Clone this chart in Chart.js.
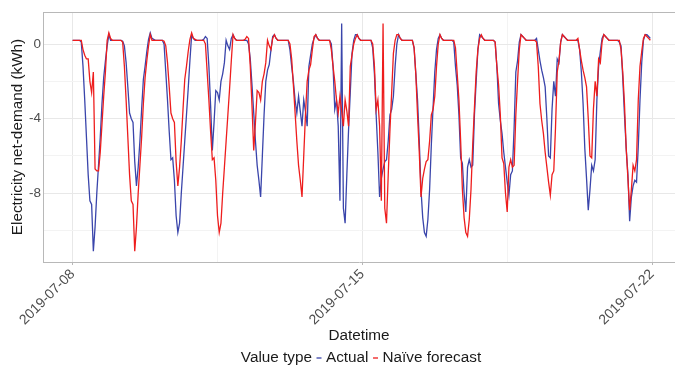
<!DOCTYPE html>
<html>
<head>
<meta charset="utf-8">
<script src="https://cdn.jsdelivr.net/npm/chart.js@4.4.0/dist/chart.umd.min.js"></script>
<style>
  html, body { margin: 0; padding: 0; background: #fff; }
  #wrap { width: 675px; height: 367px; position: relative; }
</style>
</head>
<body>
<div id="wrap"><canvas id="netDemandChart"></canvas></div>
<script>
// hourly net demand (kWh), x = hours since 2019-07-08 00:00
const actual = [
  0.2,0.2,0.2,0.2,0.2,0.1,-1.2,-3.0,-5.0,-7.0,-8.4,-8.6,-11.1,-9.8,-8.0,-6.5,-5.0,-3.2,-1.8,-0.9,-0.1,0.5,0.2,0.2,     // 07-08
  0.2,0.2,0.2,0.2,0.2,0.15,-0.1,-1.0,-2.3,-3.7,-4.0,-4.2,-6.3,-7.6,-6.6,-5.2,-3.5,-1.9,-1.2,-0.4,0.25,0.6,0.3,0.25,   // 07-09
  0.2,0.2,0.2,0.2,0.2,0.0,-1.5,-3.0,-4.7,-6.2,-6.1,-7.3,-9.2,-10.1,-9.6,-8.0,-6.6,-5.2,-3.8,-2.4,-0.9,0.5,0.3,0.2,    // 07-10
  0.2,0.2,0.2,0.2,0.25,0.4,0.3,-1.2,-3.3,-5.7,-4.2,-2.5,-2.6,-3.0,-2.0,-1.6,-1.0,0.2,-0.1,-0.3,0.3,0.5,0.3,0.2,       // 07-11
  0.2,0.2,0.2,0.2,0.2,0.2,0.0,-0.8,-2.2,-3.7,-5.2,-6.5,-7.3,-8.2,-6.0,-3.8,-2.0,-1.4,-1.1,-0.3,0.4,0.5,0.3,0.2,       // 07-12
  0.2,0.2,0.2,0.2,0.2,0.2,-0.3,-1.2,-2.0,-3.0,-3.7,-2.8,-3.6,-4.4,-3.0,-3.6,-4.4,-1.2,-0.6,0.0,0.3,0.5,0.3,0.2,       // 07-13
  0.2,0.2,0.2,0.2,0.2,0.2,0.0,-1.2,-3.5,-3.0,-4.4,-8.4,1.1,-8.8,-9.6,-7.0,-4.6,-2.6,-0.5,0.2,0.5,0.5,0.3,0.2,         // 07-14
  0.2,0.2,0.2,0.2,0.2,0.2,-0.2,-1.6,-3.8,-5.8,-8.2,-7.2,-6.7,-6.3,-6.2,-5.2,-3.8,-3.5,-2.8,-1.2,0.0,0.5,0.3,0.2,      // 07-15
  0.2,0.2,0.2,0.2,0.2,0.2,-0.2,-1.6,-3.0,-5.2,-7.8,-9.3,-10.1,-10.3,-9.4,-7.8,-5.4,-3.4,-1.5,-0.3,0.3,0.5,0.3,0.2,    // 07-16
  0.2,0.2,0.2,0.2,0.2,0.1,-1.2,-2.2,-3.8,-6.1,-6.4,-8.0,-9.0,-6.6,-6.2,-6.6,-6.5,-3.8,-2.0,-0.3,0.5,0.4,0.3,0.2,      // 07-17
  0.2,0.2,0.2,0.2,0.2,0.1,-1.2,-3.2,-4.1,-4.8,-5.8,-6.6,-7.4,-8.1,-7.0,-6.8,-4.5,-1.5,-0.9,0.1,0.5,0.4,0.3,0.2,       // 07-18
  0.2,0.2,0.2,0.2,0.2,0.3,-0.3,-0.9,-1.4,-1.8,-2.3,-4.0,-6.0,-6.1,-3.5,-2.0,-2.8,-0.8,-1.0,0.1,0.5,0.4,0.3,0.2,       // 07-19
  0.2,0.2,0.2,0.2,0.2,0.2,-0.3,-1.5,-3.2,-5.6,-7.2,-8.9,-7.8,-6.5,-6.8,-6.2,-3.0,-1.2,-0.4,0.3,0.5,0.4,0.3,0.2,       // 07-20
  0.2,0.2,0.2,0.2,0.2,0.1,-0.1,-1.8,-3.8,-5.6,-7.0,-9.5,-8.2,-7.6,-7.3,-7.4,-5.5,-3.0,-1.0,0.2,0.5,0.5,0.4,0.3        // 07-21
];

// naive forecast = same hour of the previous day
const naive = [
  0.2,0.2,0.2,0.2,0.2,0.2,-0.3,-0.6,-0.8,-0.8,-2.0,-2.6,-1.5,-6.7,-6.8,-6.8,-5.8,-4.3,-2.8,-1.5,0.2,0.6,0.3,0.2,      // 07-08
  0.2,0.2,0.2,0.2,0.2,0.1,-1.2,-3.0,-5.0,-7.0,-8.4,-8.6,-11.1,-9.8,-8.0,-6.5,-5.0,-3.2,-1.8,-0.9,-0.1,0.5,0.2,0.2,     // 07-09
  0.2,0.2,0.2,0.2,0.2,0.15,-0.1,-1.0,-2.3,-3.7,-4.0,-4.2,-6.3,-7.6,-6.6,-5.2,-3.5,-1.9,-1.2,-0.4,0.25,0.6,0.3,0.25,   // 07-10
  0.2,0.2,0.2,0.2,0.2,0.0,-1.5,-3.0,-4.7,-6.2,-6.1,-7.3,-9.2,-10.1,-9.6,-8.0,-6.6,-5.2,-3.8,-2.4,-0.9,0.5,0.3,0.2,    // 07-11
  0.2,0.2,0.2,0.2,0.25,0.4,0.3,-1.2,-3.3,-5.7,-4.2,-2.5,-2.6,-3.0,-2.0,-1.6,-1.0,0.2,-0.1,-0.3,0.3,0.5,0.3,0.2,       // 07-12
  0.2,0.2,0.2,0.2,0.2,0.2,0.0,-0.8,-2.2,-3.7,-5.2,-6.5,-7.3,-8.2,-6.0,-3.8,-2.0,-1.4,-1.1,-0.3,0.4,0.5,0.3,0.2,       // 07-13
  0.2,0.2,0.2,0.2,0.2,0.2,-0.3,-1.2,-2.0,-3.0,-3.7,-2.8,-3.6,-4.4,-3.0,-3.6,-4.4,-1.2,-0.6,0.0,0.3,0.5,0.3,0.2,       // 07-14
  0.2,0.2,0.2,0.2,0.2,0.2,0.0,-1.2,-3.5,-3.0,-4.4,-8.4,1.1,-8.8,-9.6,-7.0,-4.6,-2.6,-0.5,0.2,0.5,0.5,0.3,0.2,         // 07-15
  0.2,0.2,0.2,0.2,0.2,0.2,-0.2,-1.6,-3.8,-5.8,-8.2,-7.2,-6.7,-6.3,-6.2,-5.2,-3.8,-3.5,-2.8,-1.2,0.0,0.5,0.3,0.2,      // 07-16
  0.2,0.2,0.2,0.2,0.2,0.2,-0.2,-1.6,-3.0,-5.2,-7.8,-9.3,-10.1,-10.3,-9.4,-7.8,-5.4,-3.4,-1.5,-0.3,0.3,0.5,0.3,0.2,    // 07-17
  0.2,0.2,0.2,0.2,0.2,0.1,-1.2,-2.2,-3.8,-6.1,-6.4,-8.0,-9.0,-6.6,-6.2,-6.6,-6.5,-3.8,-2.0,-0.3,0.5,0.4,0.3,0.2,      // 07-18
  0.2,0.2,0.2,0.2,0.2,0.1,-1.2,-3.2,-4.1,-4.8,-5.8,-6.6,-7.4,-8.1,-7.0,-6.8,-4.5,-1.5,-0.9,0.1,0.5,0.4,0.3,0.2,       // 07-19
  0.2,0.2,0.2,0.2,0.2,0.3,-0.3,-0.9,-1.4,-1.8,-2.3,-4.0,-6.0,-6.1,-3.5,-2.0,-2.8,-0.8,-1.0,0.1,0.5,0.4,0.3,0.2,       // 07-20
  0.2,0.2,0.2,0.2,0.2,0.2,-0.3,-1.5,-3.2,-5.6,-7.2,-8.9,-7.8,-6.5,-6.8,-6.2,-3.0,-1.2,-0.4,0.3,0.5,0.4,0.3,0.2        // 07-21
];

const xTickHours = [0, 168, 336];
const xTickLabels = ['2019-07-08', '2019-07-15', '2019-07-22'];
const xMinorHours = [84, 252];
const yTickValues = [0, -4, -8];
const yMinorValues = [-2, -6, -10];

const FONT = '"Liberation Sans", Arial, sans-serif';
const BLUE = '#3a45ab';
const RED = '#ee1d1d';

// top edge of the panel (x and y borders draw bottom and left)
const panelTop = {
  id: 'panelTop',
  afterDraw(chart) {
    const { ctx, chartArea } = chart;
    ctx.save();
    ctx.strokeStyle = '#b8b8b8';
    ctx.lineWidth = 1;
    ctx.beginPath();
    ctx.moveTo(chartArea.left, chartArea.top + 0.5);
    ctx.lineTo(chartArea.right, chartArea.top + 0.5);
    ctx.stroke();
    ctx.restore();
  }
};

// ggplot style legend in one row: title, key, label, key, label
const legendRow = {
  id: 'legendRow',
  afterDraw(chart) {
    const { ctx, chartArea } = chart;
    const keyW = 5, gap = 4.5, y = 358;
    ctx.save();
    ctx.font = '15.3px ' + FONT;
    ctx.textBaseline = 'middle';
    const parts = [{ text: 'Value type' }];
    chart.data.datasets.forEach(ds => {
      parts.push({ key: ds.borderColor });
      parts.push({ text: ds.label });
    });
    let total = 0;
    parts.forEach((p, i) => {
      p.w = p.text ? ctx.measureText(p.text).width : keyW;
      total += p.w + (i ? gap : 0);
    });
    let x = (chartArea.left + chartArea.right) / 2 + 2 - total / 2;
    parts.forEach(p => {
      if (p.text) {
        ctx.fillStyle = '#1a1a1a';
        ctx.fillText(p.text, x, y);
      } else {
        ctx.strokeStyle = p.key;
        ctx.lineWidth = 1.3;
        ctx.beginPath();
        ctx.moveTo(x, y);
        ctx.lineTo(x + keyW, y);
        ctx.stroke();
      }
      x += p.w + gap;
    });
    ctx.restore();
  }
};

const netDemandConfig = {
  type: 'line',
  data: {
    datasets: [{
      label: 'Actual',
      data: actual.map((v, i) => ({ x: i, y: v })),
      borderColor: BLUE,
      borderWidth: 1.3,
      pointRadius: 0,
      tension: 0,
      order: 2
    },
    {
      label: 'Naïve forecast',
      data: naive.map((v, i) => ({ x: i, y: v })),
      borderColor: RED,
      borderWidth: 1.3,
      pointRadius: 0,
      tension: 0,
      order: 1
    }]
  },
  options: {
    animation: false,
    responsive: true,
    maintainAspectRatio: false,
    layout: { padding: { top: 12, right: 0, bottom: 22, left: 0 } },
    plugins: {
      legend: { display: false },
      tooltip: { enabled: false }
    },
    scales: {
      x: {
        type: 'linear',
        min: -17.2,
        max: 349.3,
        afterBuildTicks: s => {
          s.ticks = xTickHours.concat(xMinorHours).sort((a, b) => a - b).map(v => ({ value: v }));
        },
        afterFit: s => { s.height = 83; s.paddingLeft = 0; s.paddingRight = 0; },
        ticks: {
          autoSkip: false,
          minRotation: 45,
          maxRotation: 45,
          padding: 1,
          color: '#4d4d4d',
          font: { family: FONT, size: 14 },
          callback: v => {
            const i = xTickHours.indexOf(v);
            return i < 0 ? '' : xTickLabels[i];
          }
        },
        grid: {
          color: c => xTickHours.includes(c.tick.value) ? '#e8e8e8' : '#f3f3f3',
          tickColor: c => xTickHours.includes(c.tick.value) ? '#b8b8b8' : 'rgba(0,0,0,0)',
          tickLength: 3,
          lineWidth: 1
        },
        border: { display: true, color: '#b8b8b8' },
        title: {
          display: true,
          text: 'Datetime',
          color: '#1a1a1a',
          font: { family: FONT, size: 15.3 },
          padding: { top: 0, bottom: 0 }
        }
      },
      y: {
        min: -11.68,
        max: 1.715,
        afterBuildTicks: s => {
          s.ticks = yMinorValues.concat(yTickValues).sort((a, b) => a - b).map(v => ({ value: v }));
        },
        afterFit: s => { s.width = 43; },
        ticks: {
          padding: 2,
          color: '#4d4d4d',
          font: { family: FONT, size: 13.5 },
          callback: v => yTickValues.includes(v) ? String(v) : ''
        },
        grid: {
          color: c => yTickValues.includes(c.tick.value) ? '#e8e8e8' : '#f3f3f3',
          drawTicks: false,
          lineWidth: 1
        },
        border: { display: true, color: '#b8b8b8' },
        title: {
          display: true,
          text: 'Electricity net-demand (kWh)',
          color: '#1a1a1a',
          font: { family: FONT, size: 15.3 },
          padding: { top: 9, bottom: 0 }
        }
      }
    }
  },
  plugins: [panelTop, legendRow]
};

const netDemandCanvas = document.getElementById('netDemandChart');
const netDemandChart = new Chart(netDemandCanvas, netDemandConfig);
</script>
</body>
</html>
